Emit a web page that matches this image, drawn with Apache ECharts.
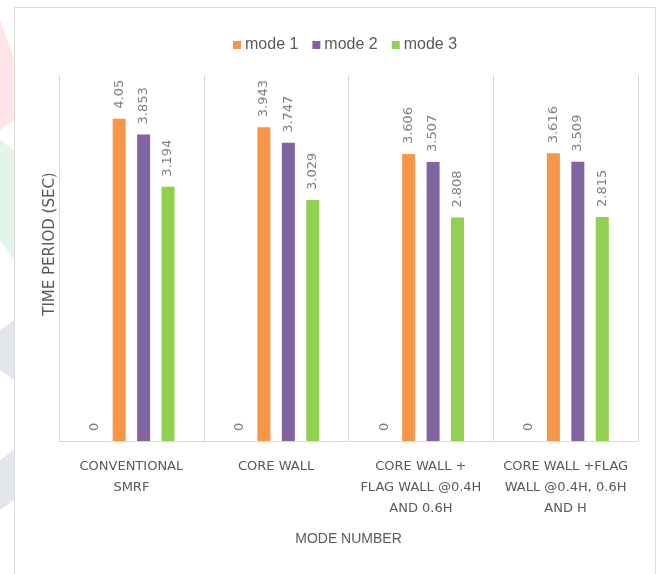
<!DOCTYPE html>
<html>
<head>
<meta charset="utf-8">
<script src="https://cdn.jsdelivr.net/npm/echarts@6/dist/echarts.min.js"></script>
<style>
  html, body { margin: 0; padding: 0; background: #fff; }
  #chart { width: 661px; height: 574px; }
</style>
</head>
<body>
<div id="chart"></div>
<script>
// Time period data per structural system
var categories = [
    'CONVENTIONAL\nSMRF',
    'CORE WALL',
    'CORE WALL +\nFLAG WALL @0.4H\nAND 0.6H',
    'CORE WALL +FLAG\nWALL @0.4H, 0.6H\nAND H'
];
var baseValues = [0, 0, 0, 0];
var mode1 = [4.05, 3.943, 3.606, 3.616];
var mode2 = [3.853, 3.747, 3.507, 3.509];
var mode3 = [3.194, 3.029, 2.808, 2.815];

var chart = echarts.init(document.getElementById('chart'));

var labelStyle = {
    show: true,
    position: 'top',
    rotate: 90,
    align: 'left',
    verticalAlign: 'middle',
    distance: 10,
    color: '#808080',
    fontSize: 13,
    fontFamily: 'DejaVu Sans'
};

function barSeries(name, data, color) {
    return {
        name: name,
        type: 'bar',
        data: data,
        barWidth: 13,
        barGap: '88%',
        itemStyle: { color: color },
        label: labelStyle
    };
}

chart.setOption({
    backgroundColor: '#fff',
    animation: false,
    graphic: [
        // faint watermark shapes at the left edge
        { type: 'polygon', shape: { points: [[0, 20], [14, 60], [14, 120], [0, 130]] }, style: { fill: 'rgba(255,200,205,0.5)' }, z: -10 },
        { type: 'polygon', shape: { points: [[0, 140], [14, 150], [14, 260], [0, 240]] }, style: { fill: 'rgba(200,235,215,0.5)' }, z: -10 },
        { type: 'polygon', shape: { points: [[0, 330], [14, 320], [14, 380], [0, 370]] }, style: { fill: 'rgba(215,220,228,0.7)' }, z: -10 },
        { type: 'polygon', shape: { points: [[0, 460], [14, 450], [14, 500], [0, 510]] }, style: { fill: 'rgba(215,220,228,0.7)' }, z: -10 },
        {
            type: 'rect',
            shape: { x: 14.5, y: 7.5, width: 641, height: 580 },
            style: { fill: '#fff', stroke: '#d9d9d9', lineWidth: 1 },
            z: -5
        }
    ],
    legend: {
        data: ['mode 1', 'mode 2', 'mode 3'],
        top: 32,
        left: 228,
        itemWidth: 8,
        itemHeight: 8,
        itemGap: 14,
        icon: 'rect',
        textStyle: {
            color: '#595959',
            fontSize: 16,
            fontFamily: 'Liberation Sans Narrow, Liberation Sans, sans-serif',
            padding: [0, 0, 0, -1]
        }
    },
    grid: {
        left: 59,
        right: 23,
        top: 75,
        bottom: 133,
        containLabel: false
    },
    xAxis: {
        type: 'category',
        data: categories,
        name: 'MODE NUMBER',
        nameLocation: 'middle',
        nameGap: 91,
        nameTextStyle: {
            color: '#595959',
            fontSize: 14,
            fontFamily: 'Liberation Sans Narrow, Liberation Sans, sans-serif'
        },
        axisLine: { show: true, lineStyle: { color: '#d9d9d9', width: 1 } },
        axisTick: { show: false },
        splitLine: { show: true, lineStyle: { color: '#d9d9d9', width: 1 } },
        axisLabel: {
            interval: 0,
            margin: 15,
            color: '#595959',
            fontSize: 13,
            lineHeight: 21,
            fontFamily: 'DejaVu Sans'
        }
    },
    yAxis: {
        type: 'value',
        min: 0,
        max: 4.6,
        name: 'TIME PERIOD (SEC)',
        nameLocation: 'middle',
        nameGap: 1,
        nameTextStyle: {
            color: '#595959',
            fontSize: 15,
            fontFamily: 'DejaVu Sans',
            padding: [0, 0, 0, 28]
        },
        axisLine: { show: false },
        axisTick: { show: false },
        axisLabel: { show: false },
        splitLine: { show: false }
    },
    series: [
        barSeries('base', baseValues, '#4F81BD'),
        barSeries('mode 1', mode1, '#F79646'),
        barSeries('mode 2', mode2, '#8064A2'),
        barSeries('mode 3', mode3, '#92D050')
    ]
});
</script>
</body>
</html>
